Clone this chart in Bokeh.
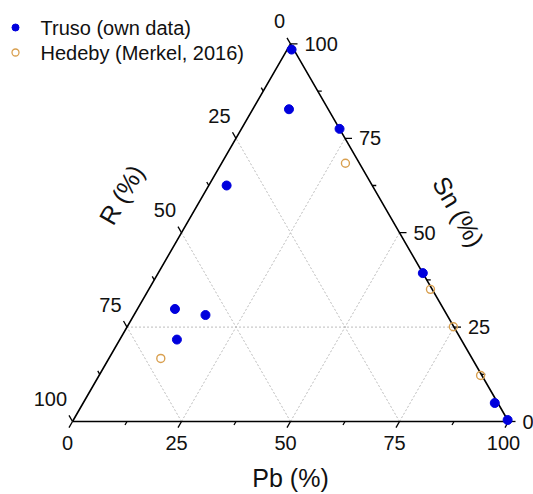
import math
from bokeh.plotting import figure
from bokeh.models import Range1d
from bokeh.core.properties import value
from bokeh.embed import file_html
from bokeh.resources import INLINE

# ---- data (ternary percentages; R = 100 - Pb - Sn) ----
truso_pb = [1.0, 8.3, 22.5, 4.1, 60.7, 94.4, 99.6, 8.6, 16.4, 13.1]
truso_sn = [98.5, 82.7, 77.5, 62.5, 39.3, 4.9, 0.4, 29.8, 28.2, 21.7]
hedeby_pb = [11.9, 28.4, 64.6, 74.8, 87.5]
hedeby_sn = [16.7, 68.4, 35.0, 25.1, 12.2]
major_ticks = [0, 25, 50, 75, 100]
minor_ticks = [12.5, 37.5, 62.5, 87.5]
tick_labels = ["0", "25", "50", "75", "100"]
grid_vals = [25, 50, 75]
horiz_grid = [25]
legend_labels = ["Truso (own data)", "Hedeby (Merkel, 2016)"]

FONT = value("Liberation Sans")
BLUE = "#0000dd"
ORANGE = "#d9a050"
H = math.sqrt(3) / 2
S = 4.36           # pixels per ternary unit
W, HT = 533, 494
OX, OY = 72, 421   # pixel position of the bottom-left vertex


def tern(pb, sn):
    return pb + sn / 2.0, sn * H


def tern_list(pbs, sns):
    xs, ys = [], []
    for a, b in zip(pbs, sns):
        x, y = tern(a, b)
        xs.append(x)
        ys.append(y)
    return xs, ys


def px(xp, yp):
    # screen pixel (from top-left) -> data units
    return (xp - OX) / S, (OY - yp) / S


p = figure(width=W, height=HT, output_backend="svg", toolbar_location=None,
           x_range=Range1d(-OX / S, (W - OX) / S),
           y_range=Range1d(-(HT - OY) / S, OY / S),
           x_axis_type=None, y_axis_type=None, min_border=0)
p.outline_line_color = None
p.grid.visible = False

# ---- grid lines ----
gx, gy = [], []
for a in grid_vals:
    # constant Pb
    x0, y0 = tern(a, 0)
    x1, y1 = tern(a, 100 - a)
    gx.append([x0, x1]); gy.append([y0, y1])
    # constant R
    x0, y0 = tern(100 - a, 0)
    x1, y1 = tern(0, 100 - a)
    gx.append([x0, x1]); gy.append([y0, y1])
for s in horiz_grid:
    x0, y0 = tern(0, s)
    x1, y1 = tern(100 - s, s)
    gx.append([x0, x1]); gy.append([y0, y1])
p.multi_line(gx, gy, line_color="#bdbdbd", line_width=1, line_dash="2 2")

# ---- triangle ----
tx, ty = tern_list([0, 100, 0, 0], [0, 0, 100, 0])
p.line(tx, ty, line_color="black", line_width=1.6)

# ---- ticks ----
def add_ticks(vals, length):
    x0s, y0s, x1s, y1s = [], [], [], []
    L = length / S
    for v in vals:
        # bottom (Pb): down-left
        x, y = tern(v, 0)
        x0s.append(x); y0s.append(y); x1s.append(x - 0.5 * L); y1s.append(y - H * L)
        # right (Sn): horizontal right
        x, y = tern(100 - v, v)
        x0s.append(x); y0s.append(y); x1s.append(x + L); y1s.append(y)
        # left (R): up-left
        x, y = tern(0, 100 - v)
        x0s.append(x); y0s.append(y); x1s.append(x - 0.5 * L); y1s.append(y + H * L)
    p.segment(x0s, y0s, x1s, y1s, line_color="black", line_width=1.3)


add_ticks(major_ticks, 7)
add_ticks(minor_ticks, 4)

# ---- tick labels ----
TS = "20px"
bx, by = tern_list(major_ticks, [0] * 5)
p.text(bx, by, text=tick_labels, x_offset=-5, y_offset=21, text_align="center",
       text_baseline="middle", text_font=FONT, text_font_size=TS, text_color="#111111")
rx, ry = tern_list([100 - v for v in major_ticks], major_ticks)
p.text(rx, ry, text=tick_labels, x_offset=14, y_offset=0, text_align="left",
       text_baseline="middle", text_font=FONT, text_font_size=TS, text_color="#111111")
lx, ly = tern_list([0] * 5, [100 - v for v in major_ticks])
p.text(lx, ly, text=tick_labels, x_offset=-5.5, y_offset=-22.5, text_align="right",
       text_baseline="middle", text_font=FONT, text_font_size=TS, text_color="#111111")

# ---- axis titles ----
ax_, ay_ = tern(50, 0)
p.text([ax_], [ay_], text=["Pb (%)"], x_offset=0, y_offset=56, text_align="center",
       text_baseline="middle", text_font=FONT, text_font_size="25px", text_color="#111111")
ax_, ay_ = tern(0, 50)
p.text([ax_], [ay_], text=["R (%)"], x_offset=-60, y_offset=-38, angle=math.pi / 3,
       text_align="center", text_baseline="middle", text_font=FONT,
       text_font_size="25px", text_color="#111111")
ax_, ay_ = tern(50, 50)
p.text([ax_], [ay_], text=["Sn (%)"], x_offset=59, y_offset=-21, angle=-math.pi / 3,
       text_align="center", text_baseline="middle", text_font=FONT,
       text_font_size="25px", text_color="#111111")

# ---- data points ----
hx, hy = tern_list(hedeby_pb, hedeby_sn)
p.scatter(hx, hy, marker="circle", size=8, fill_color=None, line_color=ORANGE, line_width=1.4)
ux, uy = tern_list(truso_pb, truso_sn)
p.scatter(ux, uy, marker="circle", size=9, fill_color=BLUE, line_color=BLUE, line_width=1)

# ---- legend (manual) ----
l1 = px(15, 27)
l2 = px(15, 52)
p.scatter([l1[0]], [l1[1]], marker="circle", size=7, fill_color=BLUE, line_color=BLUE)
p.scatter([l2[0]], [l2[1]], marker="circle", size=7, fill_color=None, line_color=ORANGE,
          line_width=1.3)
t1 = px(40, 27)
t2 = px(40, 52)
p.text([t1[0], t2[0]], [t1[1], t2[1]], text=legend_labels, text_align="left",
       text_baseline="middle", text_font=FONT, text_font_size="20px", text_color="#111111")

open("out.html", "w").write(file_html(p, INLINE))
